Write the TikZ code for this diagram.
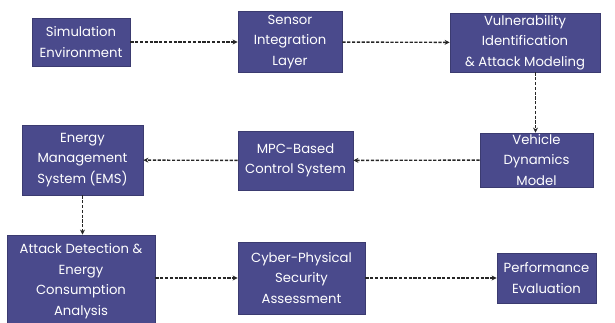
\documentclass[tikz,border=0pt]{standalone}
\usepackage{fontspec}
\setmainfont{Poppins}
\usetikzlibrary{arrows.meta}
\definecolor{boxfill}{HTML}{4A4A8C}
\tikzset{
  blk/.style={draw=boxfill!80!black, line width=0.8pt, fill=boxfill, text=white, align=center,
    font=\fontsize{13.2}{20.5}\selectfont, inner sep=0pt},
  conn/.style={draw=black!85, line width=1.4pt, dash pattern=on 3.2pt off 1.6pt, -{Stealth[length=5pt,width=5pt]}}
}
\begin{document}
\begin{tikzpicture}[x=1pt,y=-1pt]
\useasboundingbox (0,0) rectangle (615,323);
\node[blk, minimum width=98pt, minimum height=48pt] (sim) at (81,42) {Simulation\\Environment};
\node[blk, minimum width=104pt, minimum height=61pt] (sen) at (290,42) {Sensor\\Integration\\Layer};
\node[blk, minimum width=150pt, minimum height=59pt] (vul) at (525,42.5) {Vulnerability\\Identification\\\& Attack Modeling};
\node[blk, minimum width=113pt, minimum height=54pt] (veh) at (536.5,160) {Vehicle\\Dynamics\\Model};
\node[blk, minimum width=115pt, minimum height=59pt] (mpc) at (295.5,160.5) {MPC-Based\\Control System};
\node[blk, minimum width=121pt, minimum height=70pt] (ems) at (82.5,160) {Energy\\Management\\System (EMS)};
\node[blk, minimum width=148pt, minimum height=92pt] (att) at (81,281) {Attack Detection \&\\Energy\\Consumption\\Analysis};
\node[blk, minimum width=127pt, minimum height=72pt] (cyb) at (301.5,278) {Cyber-Physical\\Security\\Assessment};
\node[blk, minimum width=99pt, minimum height=50pt] (per) at (546.5,278) {Performance\\Evaluation};
\draw[conn] (sim) -- (sen);
\draw[conn] (sen) -- (vul);
\draw[conn] (vul.south -| veh.north) ++(-1,0) -- ([xshift=-1pt]veh.north);
\draw[conn] (veh) -- (mpc);
\draw[conn] (mpc) -- (ems);
\draw[conn] (ems) -- (ems.south |- att.north);
\draw[conn] (att.east |- cyb) -- (cyb);
\draw[conn] (cyb) -- (per);
\end{tikzpicture}
\end{document}
